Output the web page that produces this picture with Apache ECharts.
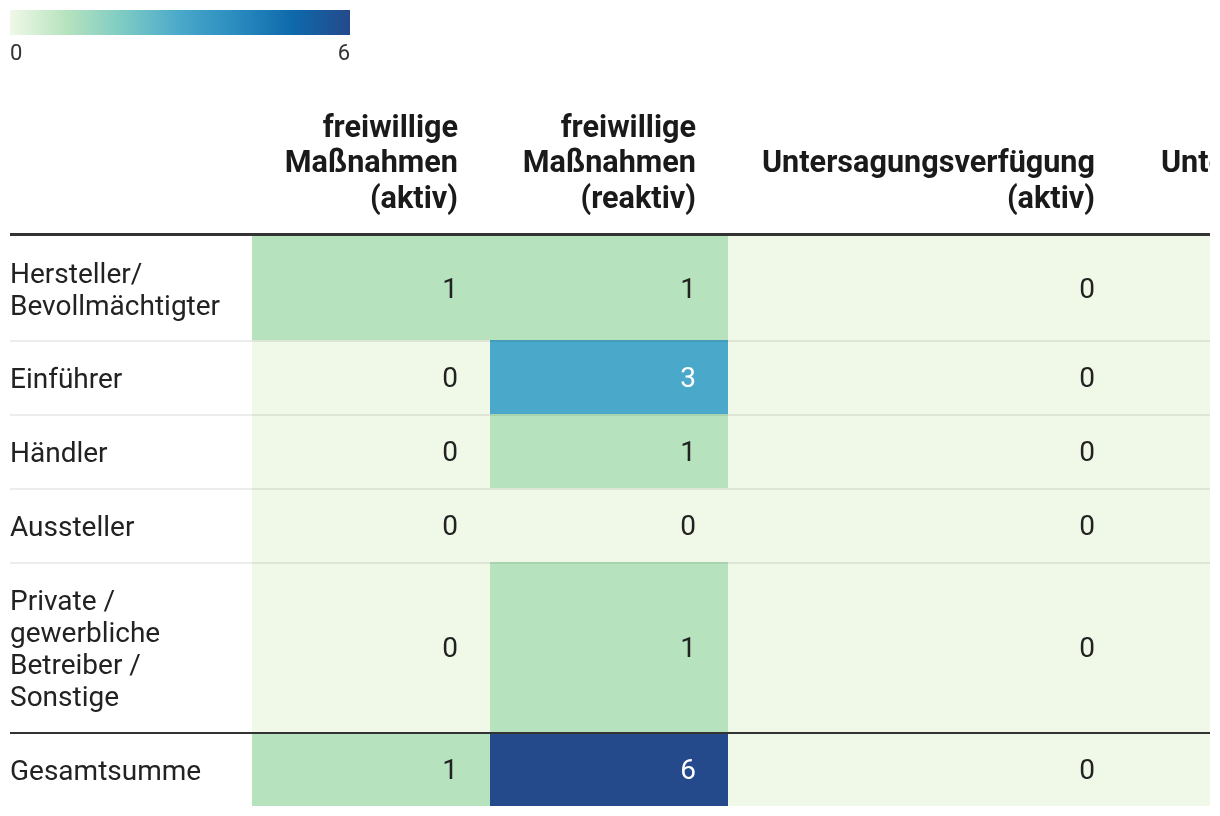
<!DOCTYPE html>
<html>
<head>
<meta charset="utf-8">
<script src="https://cdn.jsdelivr.net/npm/echarts@6/dist/echarts.min.js"></script>
<style>
  html, body { margin: 0; padding: 0; background: #fff; overflow: hidden; }
  #chart { position: absolute; left: 0; top: 0; width: 1210px; height: 816px; }
</style>
</head>
<body>
<div id="chart"></div>
<script>
// ---- data ----
const columns = [
  'freiwillige\nMaßnahmen\n(aktiv)',
  'freiwillige\nMaßnahmen\n(reaktiv)',
  'Untersagungsverfügung\n(aktiv)',
  'Untersagungsverfügung\n(reaktiv)'
];
const rows = [
  'Hersteller/\nBevollmächtigter',
  'Einführer',
  'Händler',
  'Aussteller',
  'Private /\ngewerbliche\nBetreiber /\nSonstige',
  'Gesamtsumme'
];
const colAktiv = [1, 0, 0, 0, 0, 1];
const colReaktiv = [1, 3, 1, 0, 1, 6];
const colUntAktiv = [0, 0, 0, 0, 0, 0];
const colUntReaktiv = [0, 0, 0, 0, 0, 0];
const legendTicks = ['0', '6'];
const scaleMin = 0, scaleMax = 6;

// ---- layout & style ----
const colWidths = [238, 238, 399, 399];
const rowHeights = [104, 74, 74, 74, 170, 74];
const gridLeft = 252, gridTop = 236, gridRight = 1210;
const palette = ['#f0f8e8', '#b6e3be', '#7ccbc4', '#4aa8ca', '#2a8bbf', '#0e69ab', '#244a8b'];
const FONT = 'Roboto';

const colEdges = [0]; colWidths.forEach(w => colEdges.push(colEdges[colEdges.length - 1] + w));
const rowEdges = [0]; rowHeights.forEach(h => rowEdges.push(rowEdges[rowEdges.length - 1] + h));
const visibleW = gridRight - gridLeft;
const totalW = colEdges[colEdges.length - 1];
const totalH = rowEdges[rowEdges.length - 1];

const valueCols = [colAktiv, colReaktiv, colUntAktiv, colUntReaktiv];
const cellData = [];
valueCols.forEach((arr, c) => arr.forEach((v, r) => cellData.push([c, r, v])));

const chart = echarts.init(document.getElementById('chart'), null, { renderer: 'canvas' });

function cellItem(params, api) {
  const c = api.value(0), r = api.value(1), v = api.value(2);
  const p0 = api.coord([colEdges[c], rowEdges[r]]);
  const p1 = api.coord([colEdges[c + 1], rowEdges[r + 1]]);
  return {
    type: 'group',
    children: [
      { type: 'rect', shape: { x: p0[0], y: p0[1], width: p1[0] - p0[0], height: p1[1] - p0[1] },
        style: { fill: api.visual('color') } },
      { type: 'text', style: { text: String(v), x: p1[0] - 32, y: (p0[1] + p1[1]) / 2 + 3,
        align: 'right', verticalAlign: 'middle', font: '28px ' + FONT,
        fill: v >= 3 ? '#ffffff' : '#222222' } }
    ]
  };
}

function rowLabelItem(params, api) {
  const r = api.value(0);
  const p0 = api.coord([0, rowEdges[r]]);
  const p1 = api.coord([0, rowEdges[r + 1]]);
  return { type: 'text', style: { text: rows[r], x: 10, y: (p0[1] + p1[1]) / 2 + 4,
    align: 'left', verticalAlign: 'middle', font: '28px ' + FONT, lineHeight: 32, fill: '#222' } };
}

function headerItem(params, api) {
  const c = api.value(0);
  const p1 = api.coord([colEdges[c + 1], 0]);
  return { type: 'text', style: { text: columns[c], x: p1[0] - 32, y: p1[1] - 18,
    align: 'right', verticalAlign: 'bottom', font: 'bold 30.6px ' + FONT, lineHeight: 35.5, fill: '#1a1a1a' } };
}

function lineItem(params, api) {
  const r = api.value(0);
  const p = api.coord([totalW, rowEdges[r]]);
  const thick = (r === 0 || r === rows.length - 1);
  const h = r === 0 ? 3 : 2;
  const y = r === 0 ? p[1] - 3 : p[1];
  return { type: 'rect', shape: { x: 10, y: y, width: p[0] - 10, height: h },
    style: { fill: thick ? '#333333' : 'rgba(0,0,0,0.07)' } };
}

const lineData = [0, 1, 2, 3, 4, 5].map(r => [r]);

chart.setOption({
  animation: false,
  grid: { left: gridLeft, top: gridTop, width: visibleW, height: totalH },
  xAxis: { type: 'value', min: 0, max: visibleW, show: false },
  yAxis: { type: 'value', min: 0, max: totalH, inverse: true, show: false },
  visualMap: { show: false, type: 'continuous', min: scaleMin, max: scaleMax, dimension: 2,
    seriesIndex: 0, inRange: { color: palette } },
  graphic: [
    { type: 'rect', left: 10, top: 10, shape: { width: 340, height: 25 },
      style: { fill: new echarts.graphic.LinearGradient(0, 0, 1, 0,
        palette.map((c, i) => ({ offset: i / (palette.length - 1), color: c }))) } },
    { type: 'text', left: 10, top: 43, style: { text: legendTicks[0], font: '22px ' + FONT, fill: '#333' } },
    { type: 'text', right: 1210 - 350, top: 43, style: { text: legendTicks[1], font: '22px ' + FONT, fill: '#333' } }
  ],
  series: [
    { type: 'custom', renderItem: cellItem, data: cellData, clip: false, z: 2 },
    { type: 'custom', renderItem: lineItem, data: lineData, clip: false, z: 3 },
    { type: 'custom', renderItem: rowLabelItem, data: rows.map((_, i) => [i]), clip: false, z: 4 },
    { type: 'custom', renderItem: headerItem, data: columns.map((_, i) => [i]), clip: false, z: 4 }
  ]
});
</script>
</body>
</html>
